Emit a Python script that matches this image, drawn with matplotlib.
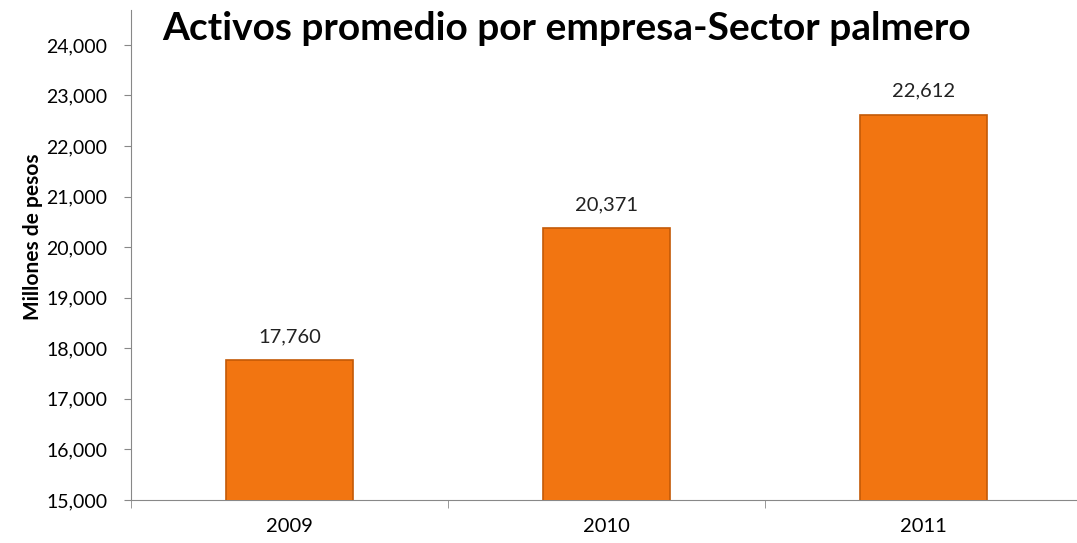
import numpy as np
import matplotlib
matplotlib.use("Agg")
import matplotlib.pyplot as plt
from matplotlib.ticker import FuncFormatter

years = ["2009", "2010", "2011"]
activos = [17760, 20371, 22612]
y_ticks = list(range(15000, 24001, 1000))

plt.rcParams['font.family'] = ['Lato', 'DejaVu Sans']

fig = plt.figure(figsize=(10.77, 5.43), dpi=100)
# axis line runs off the right edge of the picture, as in the original
ax = fig.add_axes([131 / 1077, 1 - 500 / 543, 951 / 1077, 490 / 543])

x = np.arange(len(years))
bars = ax.bar(x, activos, width=0.40, color="#F27511", edgecolor="#C45A07",
              linewidth=1.2, zorder=3)

for xi, v in zip(x, activos):
    ax.annotate(f"{v:,}", (xi, v), xytext=(0, 11), textcoords="offset points",
                ha="center", va="bottom", fontsize=14.5, color="#222222")

ax.set_xlim(-0.5, len(years) - 0.5)
ax.set_ylim(15000, 24690)
ax.set_yticks(y_ticks)
ax.yaxis.set_major_formatter(FuncFormatter(lambda v, p: f"{int(v):,}"))
ax.set_xticks(x)
ax.set_xticklabels(years)
ax.set_xticks(np.arange(len(years) + 1) - 0.5, minor=True)
ax.tick_params(axis="x", which="major", length=0, pad=13, labelsize=14.5)
ax.tick_params(axis="x", which="minor", length=6, color="#888888")
ax.tick_params(axis="y", length=5, color="#888888", labelsize=14, pad=12)

for s in ["top", "right"]:
    ax.spines[s].set_visible(False)
for s in ["left", "bottom"]:
    ax.spines[s].set_color("#888888")

ax.set_ylabel("Millones de pesos", fontsize=15, fontweight="bold")
ax.yaxis.set_label_coords(-0.093, 0.537)

fig.text(567 / 1077, 1 - 29 / 543, "Activos promedio por empresa-Sector palmero",
         ha="center", va="center", fontsize=28, fontweight="bold")

fig.savefig("out.png", dpi=100)
